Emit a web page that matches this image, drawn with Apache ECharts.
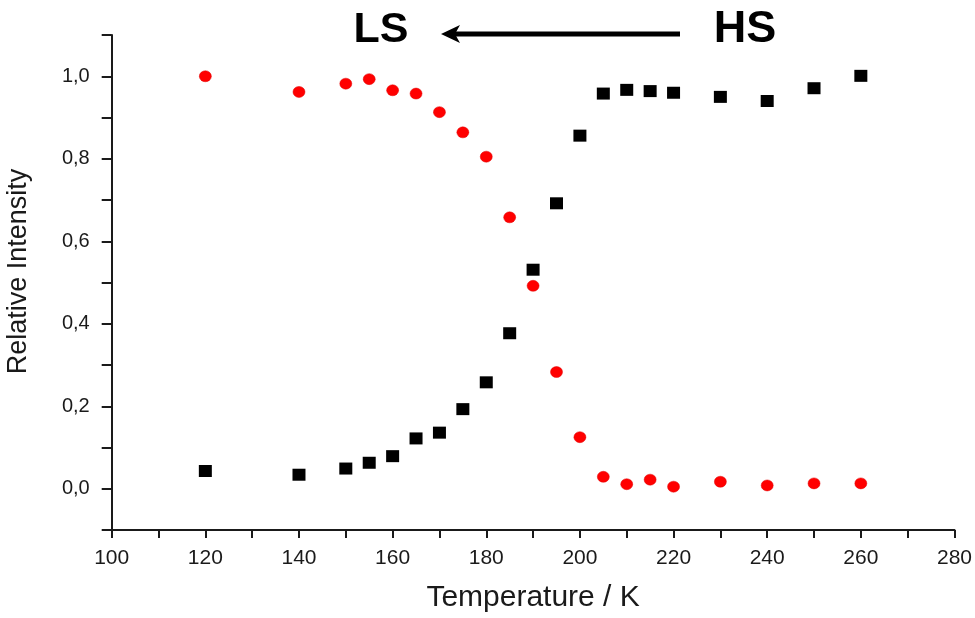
<!DOCTYPE html>
<html>
<head>
<meta charset="utf-8">
<script src="https://cdn.jsdelivr.net/npm/echarts@6/dist/echarts.min.js"></script>
<style>
html,body{margin:0;padding:0;background:#fff;}
#chart{width:975px;height:618px;}
</style>
</head>
<body>
<div id="chart"></div>
<script>
// Temperatures (K)
const temperatures = [120,140,150,155,160,165,170,175,180,185,190,195,200,205,210,215,220,230,240,250,260];
// Low-spin fraction (red circles)
const lsValues = [1.000,0.962,0.982,0.993,0.966,0.958,0.913,0.864,0.805,0.658,0.492,0.283,0.125,0.029,0.011,0.022,0.005,0.017,0.008,0.013,0.013];
// High-spin fraction (black squares)
const hsValues = [0.043,0.034,0.049,0.063,0.079,0.122,0.136,0.193,0.258,0.377,0.531,0.692,0.856,0.958,0.967,0.964,0.960,0.950,0.940,0.971,1.001];
// Axis labels
const xAxisTitle = 'Temperature / K';
const yAxisTitle = 'Relative Intensity';
const leftLabel = 'LS';
const rightLabel = 'HS';

const font = '"Liberation Sans", Arial, sans-serif';
const chart = echarts.init(document.getElementById('chart'), null, {renderer:'canvas'});

const pairs = arr => temperatures.map((t,i)=>[t, arr[i]]);

chart.setOption({
  animation:false,
  backgroundColor:'#fff',
  grid:{left:111.7, right:17.7, top:35, bottom:85.3, containLabel:false},
  xAxis:{
    type:'value', min:100, max:280, interval:10,
    name:xAxisTitle, nameLocation:'middle', nameGap:53,
    nameTextStyle:{fontFamily:font, fontSize:30, color:'#1a1a1a'},
    axisLine:{onZero:false, lineStyle:{color:'#1a1a1a', width:2}},
    axisTick:{show:true, length:8, lineStyle:{color:'#1a1a1a', width:2}},
    axisLabel:{
      fontFamily:font, fontSize:21, color:'#1a1a1a', margin:18,
      formatter: v => (Math.round(v) % 20 === 0 ? String(Math.round(v)) : '')
    },
    splitLine:{show:false}
  },
  yAxis:{
    type:'value', min:-0.1, max:1.1, interval:0.1,
    axisLine:{show:true, onZero:false, lineStyle:{color:'#1a1a1a', width:2}},
    axisTick:{show:true, length:10, lineStyle:{color:'#1a1a1a', width:2}},
    axisLabel:{
      fontFamily:font, fontSize:20, color:'#1a1a1a', margin:22,
      formatter: v => {
        const k = Math.round(v*10);
        if (k < 0 || k > 10 || k % 2 !== 0) return '';
        return (k/10).toFixed(1).replace('.', ',');
      }
    },
    splitLine:{show:false}
  },
  series:[
    {
      name:'LS', type:'scatter', data:pairs(lsValues),
      symbol:'circle', symbolSize:[12,11],
      itemStyle:{color:'#ff0000', borderColor:'#e00000', borderWidth:0.5, opacity:1}
    },
    {
      name:'HS', type:'scatter', data:pairs(hsValues),
      symbol:'rect', symbolSize:[13,12],
      itemStyle:{color:'#000', opacity:1}
    }
  ],
  graphic:[
    {type:'text', x:19, y:271.5, rotation:Math.PI/2,
     style:{text:yAxisTitle, fontFamily:font, fontSize:27, fill:'#1a1a1a', align:'center', verticalAlign:'middle'}},
    {type:'text', x:381, y:30, style:{text:leftLabel, fontFamily:font, fontWeight:'bold', fontSize:43, fill:'#000', align:'center', verticalAlign:'middle'}},
    {type:'text', x:745, y:30, style:{text:rightLabel, fontFamily:font, fontWeight:'bold', fontSize:45, fill:'#000', align:'center', verticalAlign:'middle'}},
    {type:'line', shape:{x1:455, y1:34, x2:680, y2:34}, style:{stroke:'#000', lineWidth:5}},
    {type:'polygon', shape:{points:[[441,34],[460,25],[455,34],[460,43]]}, style:{fill:'#000'}}
  ]
});
</script>
</body>
</html>
